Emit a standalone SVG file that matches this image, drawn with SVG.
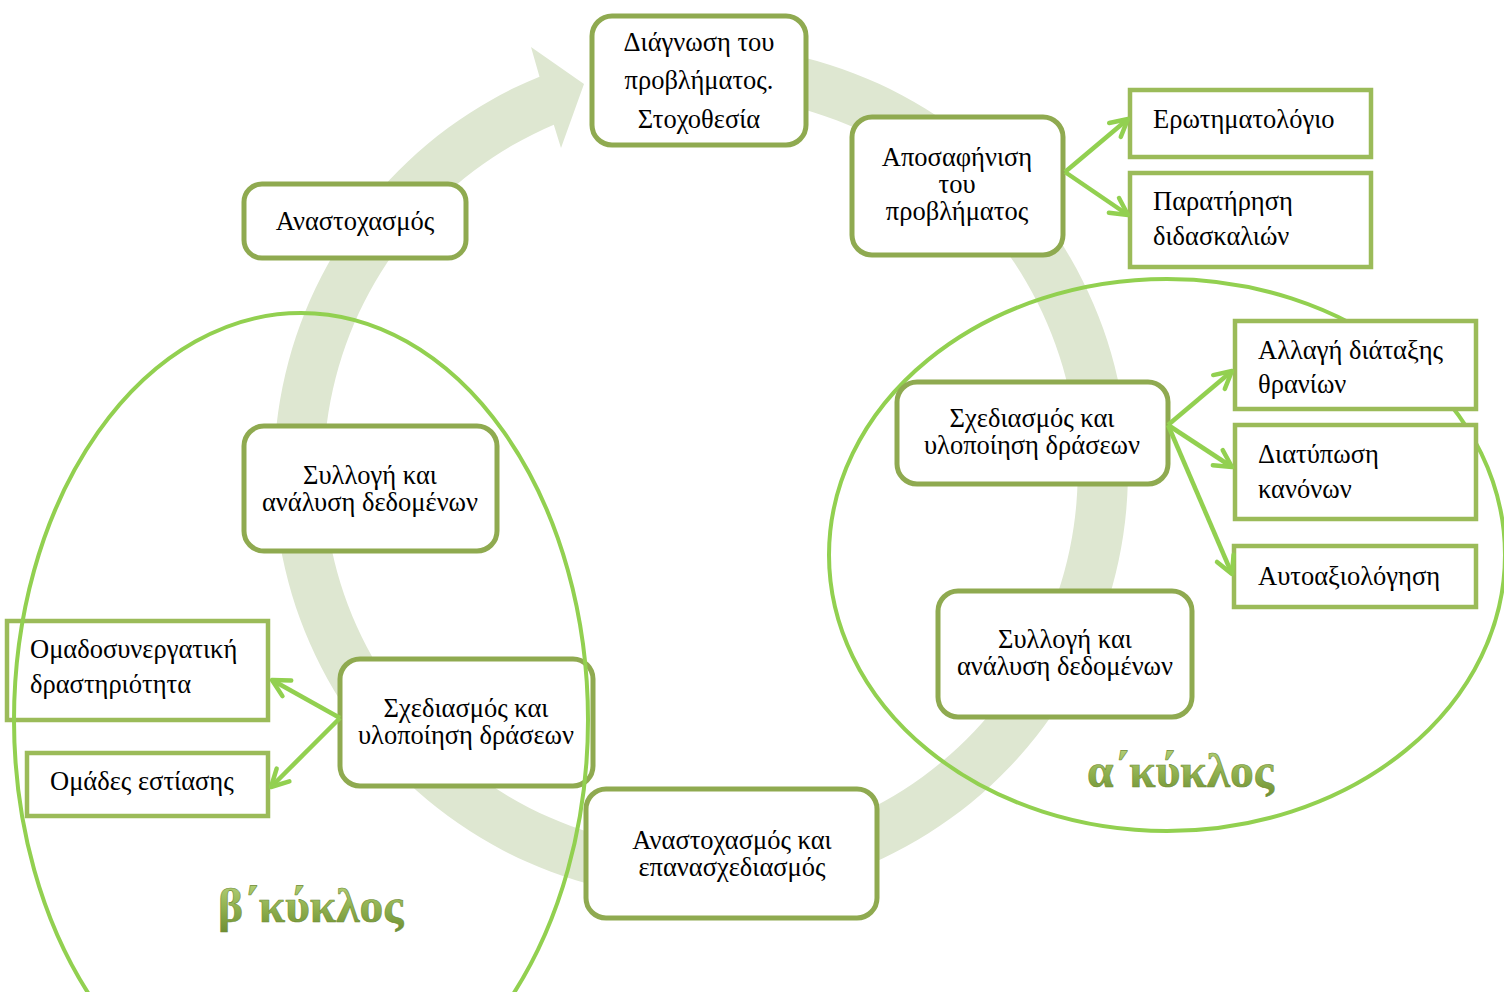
<svg xmlns="http://www.w3.org/2000/svg" width="1504" height="992" viewBox="0 0 1504 992">
<defs>
<style>
.rb{fill:#fff;stroke:#8faa50;stroke-width:5}
.sb{fill:#fff;stroke:#9bbb59;stroke-width:4.5}
.t{font-family:"Liberation Serif","Times New Roman",serif;font-size:26.5px;fill:#000}
.c{text-anchor:middle}
.el{fill:none;stroke:#92d050;stroke-width:4}
.ar{fill:none;stroke:#92d050;stroke-width:4.5;marker-end:url(#ah)}
.big{font-family:"Liberation Serif","Times New Roman",serif;font-size:47.5px;font-weight:bold;fill:url(#tg);stroke:#6f8c35;stroke-width:0.6}
</style>
<linearGradient id="tg" x1="0" y1="0" x2="0" y2="1">
<stop offset="0" stop-color="#b7d47c"/>
<stop offset="0.55" stop-color="#8fb04e"/>
<stop offset="1" stop-color="#6e8f33"/>
</linearGradient>
<marker id="ah" viewBox="0 0 24 24" refX="21" refY="12" markerWidth="24" markerHeight="24" markerUnits="userSpaceOnUse" orient="auto">
<path d="M4,3 L21,12 L4,21" fill="none" stroke="#92d050" stroke-width="4.5" stroke-linecap="round" stroke-linejoin="round"/>
</marker>
</defs>
<rect width="1504" height="992" fill="#fff"/>
<g id="cycle-arrow">
<path d="M 701 45 A 427 427 0 1 1 539.5 76.7 L 531 47 L 584 84 L 561 148 L 553.8 124.8 A 377 377 0 1 0 701 95 Z" fill="#dee7d1"/>
</g>
<g id="cycle-a">
<ellipse class="el" cx="1167" cy="555" rx="338" ry="276"/>
</g>
<g id="n-diagnosi"><rect class="rb" x="592" y="16" width="214" height="129" rx="20"/>
<text class="t c" x="699" y="51">Διάγνωση του</text><text class="t c" x="699" y="89">προβλήματος.</text><text class="t c" x="699" y="128">Στοχοθεσία</text></g>
<g id="n-aposafinisi"><rect class="rb" x="852" y="117" width="211" height="138" rx="20"/>
<text class="t c" x="957" y="166">Αποσαφήνιση</text><text class="t c" x="957" y="193">του</text><text class="t c" x="957" y="220">προβλήματος</text></g>
<g id="n-erotimatologio"><rect class="sb" x="1130" y="90" width="241" height="67"/>
<text class="t" x="1153" y="128">Ερωτηματολόγιο</text></g>
<g id="n-paratirisi"><rect class="sb" x="1130" y="173" width="241" height="94"/>
<text class="t" x="1153" y="210">Παρατήρηση</text><text class="t" x="1153" y="245">διδασκαλιών</text></g>
<g id="n-anastoxasmos"><rect class="rb" x="244" y="184" width="222" height="74" rx="18"/>
<text class="t c" x="355" y="230">Αναστοχασμός</text></g>
<g id="n-syllogi-b"><rect class="rb" x="244" y="426" width="253" height="125" rx="20"/>
<text class="t c" x="370" y="484">Συλλογή και</text><text class="t c" x="370" y="511">ανάλυση δεδομένων</text></g>
<g id="n-omadosynergatiki"><rect class="sb" x="7" y="621" width="261" height="99"/>
<text class="t" x="30" y="658">Ομαδοσυνεργατική</text><text class="t" x="30" y="693">δραστηριότητα</text></g>
<g id="n-sxediasmos-b"><rect class="rb" x="340" y="659" width="253" height="127" rx="20"/>
<text class="t c" x="466" y="717">Σχεδιασμός και</text><text class="t c" x="466" y="744">υλοποίηση δράσεων</text></g>
<g id="n-omades"><rect class="sb" x="27" y="753" width="241" height="63"/>
<text class="t" x="50" y="790">Ομάδες εστίασης</text></g>
<g id="n-epanasxediasmos"><rect class="rb" x="586" y="789" width="291" height="129" rx="20"/>
<text class="t c" x="732" y="849">Αναστοχασμός και</text><text class="t c" x="732" y="876">επανασχεδιασμός</text></g>
<g id="n-sxediasmos-a"><rect class="rb" x="897" y="382" width="271" height="102" rx="20"/>
<text class="t c" x="1032" y="427">Σχεδιασμός και</text><text class="t c" x="1032" y="454">υλοποίηση δράσεων</text></g>
<g id="n-allagi"><rect class="sb" x="1235" y="321" width="241" height="88"/>
<text class="t" x="1258" y="359">Αλλαγή διάταξης</text><text class="t" x="1258" y="393">θρανίων</text></g>
<g id="n-diatyposi"><rect class="sb" x="1235" y="425" width="241" height="94"/>
<text class="t" x="1258" y="463">Διατύπωση</text><text class="t" x="1258" y="498">κανόνων</text></g>
<g id="n-aftoaxiologisi"><rect class="sb" x="1234" y="546" width="242" height="61"/>
<text class="t" x="1258" y="585">Αυτοαξιολόγηση</text></g>
<g id="n-syllogi-a"><rect class="rb" x="938" y="591" width="254" height="126" rx="20"/>
<text class="t c" x="1065" y="648">Συλλογή και</text><text class="t c" x="1065" y="675">ανάλυση δεδομένων</text></g>
<g id="cycle-b">
<ellipse class="el" cx="301" cy="720" rx="287" ry="407"/>
</g>
<g id="connectors">
<line class="ar" x1="1065" y1="172" x2="1128" y2="119"/>
<line class="ar" x1="1065" y1="172" x2="1128" y2="215"/>
<line class="ar" x1="1168" y1="425" x2="1232" y2="371"/>
<line class="ar" x1="1168" y1="425" x2="1232" y2="467"/>
<line class="ar" x1="1168" y1="425" x2="1232" y2="574"/>
<line class="ar" x1="340" y1="718" x2="272" y2="680"/>
<line class="ar" x1="340" y1="718" x2="271" y2="787"/>
</g>
<g id="labels">
<text class="big" x="1087" y="787">α΄κύκλος</text>
<text class="big" x="218" y="922">β΄κύκλος</text>
</g>
</svg>
